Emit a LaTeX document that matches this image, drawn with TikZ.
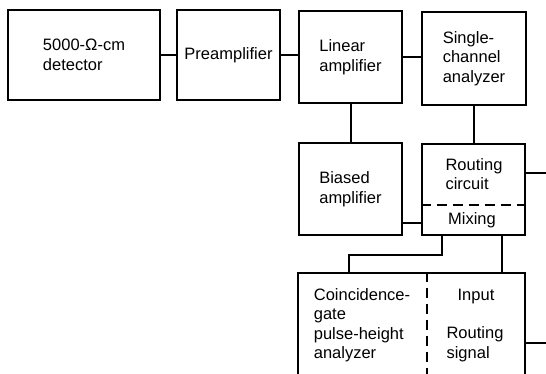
\documentclass[tikz,border=0pt]{standalone}
\usepackage{fontspec}
\setmainfont{Liberation Sans}
\begin{document}
\begin{tikzpicture}[x=1pt,y=-1pt,
  blk/.style={draw, line width=2pt, inner sep=0pt, align=left,
    font=\fontsize{16.5}{19.5}\selectfont},
  lbl/.style={inner sep=0pt, align=left, font=\fontsize{16.5}{19.5}\selectfont},
  wire/.style={line width=2pt},
  dsh/.style={line width=2pt, dash pattern=on 10pt off 6pt}]
\useasboundingbox (0,0) rectangle (546,374);
\begin{scope}
\clip (0,0) rectangle (546,374);
\node[blk, minimum width=152pt, minimum height=90pt] (det) at (84,55) {5000-Ω-cm\\detector};
\node[blk, minimum width=103pt, minimum height=90pt] (pre) at (228.5,55) {Preamplifier};
\node[blk, minimum width=103pt, minimum height=92pt] (lin) at (350.5,57) {Linear\\amplifier};
\node[blk, minimum width=104pt, minimum height=93pt] (sca) at (474,58.5) {Single-\\channel\\analyzer};
\node[blk, minimum width=103pt, minimum height=92pt] (bias) at (350.5,189) {Biased\\amplifier};
\node[blk, minimum width=103pt, minimum height=91pt] (rout) at (473.5,189.5) {};
\node[lbl] (routtxt) at (474,174) {Routing\\circuit};
\node[lbl] (mix) at (472,220) {Mixing};
\node[blk, minimum width=227pt, minimum height=112pt] (coin) at (411.5,329) {};
\node[lbl] (cointxt) at (362,325) {Coincidence-\\gate\\pulse-height\\analyzer};
\node[lbl] (inp) at (476,297) {Input};
\node[lbl] (rsig) at (475,344) {Routing\\signal};
\coordinate (r1) at (546,173);
\coordinate (r2) at (546,343);
\draw[dsh] (rout.west |- 0,205) -- (rout.east |- 0,205);
\draw[dsh] (coin.north -| 427,0) -- (coin.south -| 427,0);
\draw[wire] (det.east) -- (pre.west);
\draw[wire] (pre.east) -- (pre.east -| lin.west);
\draw[wire] (lin.east) -- (lin.east -| sca.west);
\draw[wire] (lin.south) -- (bias.north);
\draw[wire] (sca.south) -- (sca.south |- rout.north);
\draw[wire] (rout.east |- r1) -- (r1);
\draw[wire] (bias.east |- 0,223) -- (rout.west |- 0,223);
\draw[wire] ([xshift=21pt]rout.south west) -- ++(0,19) -| ([xshift=52pt]coin.north west);
\draw[wire] ([xshift=81pt]rout.south west) -- ([xshift=81pt]rout.south west |- coin.north);
\draw[wire] (coin.east |- r2) -- (r2);
\end{scope}
\end{tikzpicture}
\end{document}
